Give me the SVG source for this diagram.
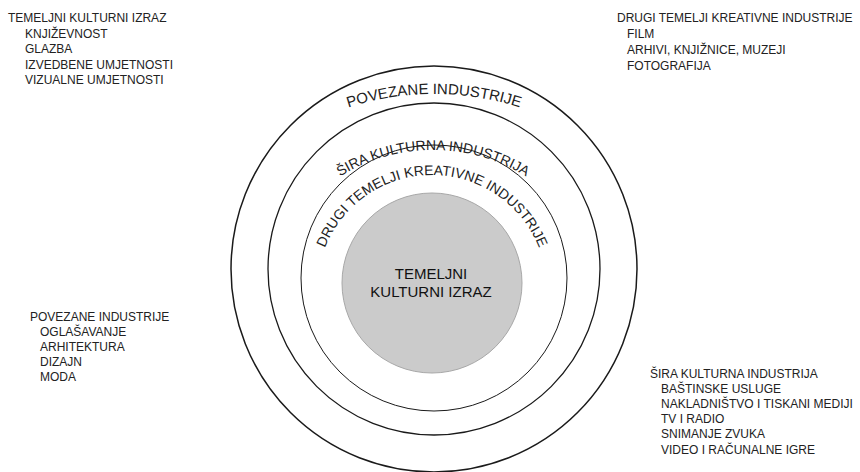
<svg xmlns="http://www.w3.org/2000/svg" xmlns:xlink="http://www.w3.org/1999/xlink" width="860" height="472" viewBox="0 0 860 472">
<style>
  text { text-transform: uppercase; }
  .lbl { font-family: "Liberation Sans", Arial, sans-serif; font-size: 12px; fill: #222; }
  .arc { font-family: "Liberation Sans", Arial, sans-serif; fill: #222; }
  .ring { fill: none; stroke: #1a1a1a; }
  .core-t { font-family: "Liberation Sans", Arial, sans-serif; font-size: 15px; fill: #111; text-anchor: middle; }
</style>
<defs>
  <path id="p-povezane" d="M 154,374 A 280,280 0 0 1 714,374"/>
  <path id="p-sira" d="M 256,327 A 177,177 0 0 1 610,327"/>
  <path id="p-drugi" d="M 317,290 A 115,115 0 0 1 547,290"/>
</defs>
<rect width="860" height="472" fill="#ffffff"/>

<g id="ring-povezane">
  <circle class="ring" cx="434" cy="269" r="203" stroke-width="1.5"/>
  <text class="arc" font-size="15"><textPath xlink:href="#p-povezane" href="#p-povezane" startOffset="50%" text-anchor="middle">POVEZANE INDUSTRIJE</textPath></text>
</g>
<g id="ring-sira">
  <circle class="ring" cx="434" cy="269" r="166" stroke-width="1.3"/>
  <text class="arc" font-size="14"><textPath xlink:href="#p-sira" href="#p-sira" startOffset="50%" text-anchor="middle">ŠIRA KULTURNA INDUSTRIJA</textPath></text>
</g>
<g id="ring-drugi">
  <circle class="ring" cx="434" cy="278" r="133" stroke-width="1" stroke="#333"/>
  <text class="arc" font-size="14"><textPath xlink:href="#p-drugi" href="#p-drugi" startOffset="50%" text-anchor="middle">DRUGI TEMELJI KREATIVNE INDUSTRIJE</textPath></text>
</g>
<g id="core">
  <circle cx="432" cy="283" r="90" fill="#cbcbcb" stroke="#a8a8a8" stroke-width="1"/>
  <text class="core-t" x="431" y="279">TEMELJNI</text>
  <text class="core-t" x="431" y="297">KULTURNI IZRAZ</text>
</g>

<g id="legend-temeljni">
  <text class="lbl" x="8" y="22">TEMELJNI KULTURNI IZRAZ</text>
  <text class="lbl" x="25" y="37.5">KNJIŽEVNOST</text>
  <text class="lbl" x="25" y="53">GLAZBA</text>
  <text class="lbl" x="25" y="68.5">IZVEDBENE UMJETNOSTI</text>
  <text class="lbl" x="25" y="84">VIZUALNE UMJETNOSTI</text>
</g>
<g id="legend-drugi">
  <text class="lbl" x="617" y="22">DRUGI TEMELJI KREATIVNE INDUSTRIJE</text>
  <text class="lbl" x="627" y="38">FILM</text>
  <text class="lbl" x="627" y="54">ARHIVI, KNJIŽNICE, MUZEJI</text>
  <text class="lbl" x="627" y="70">FOTOGRAFIJA</text>
</g>
<g id="legend-povezane">
  <text class="lbl" x="30" y="321">POVEZANE INDUSTRIJE</text>
  <text class="lbl" x="40" y="336">OGLAŠAVANJE</text>
  <text class="lbl" x="40" y="351">ARHITEKTURA</text>
  <text class="lbl" x="40" y="366">DIZAJN</text>
  <text class="lbl" x="40" y="381">MODA</text>
</g>
<g id="legend-sira">
  <text class="lbl" x="650" y="378">ŠIRA KULTURNA INDUSTRIJA</text>
  <text class="lbl" x="661" y="393">BAŠTINSKE USLUGE</text>
  <text class="lbl" x="661" y="408">NAKLADNIŠTVO I TISKANI MEDIJI</text>
  <text class="lbl" x="661" y="423">TV I RADIO</text>
  <text class="lbl" x="661" y="438">SNIMANJE ZVUKA</text>
  <text class="lbl" x="661" y="454">VIDEO I RAČUNALNE IGRE</text>
</g>
</svg>
